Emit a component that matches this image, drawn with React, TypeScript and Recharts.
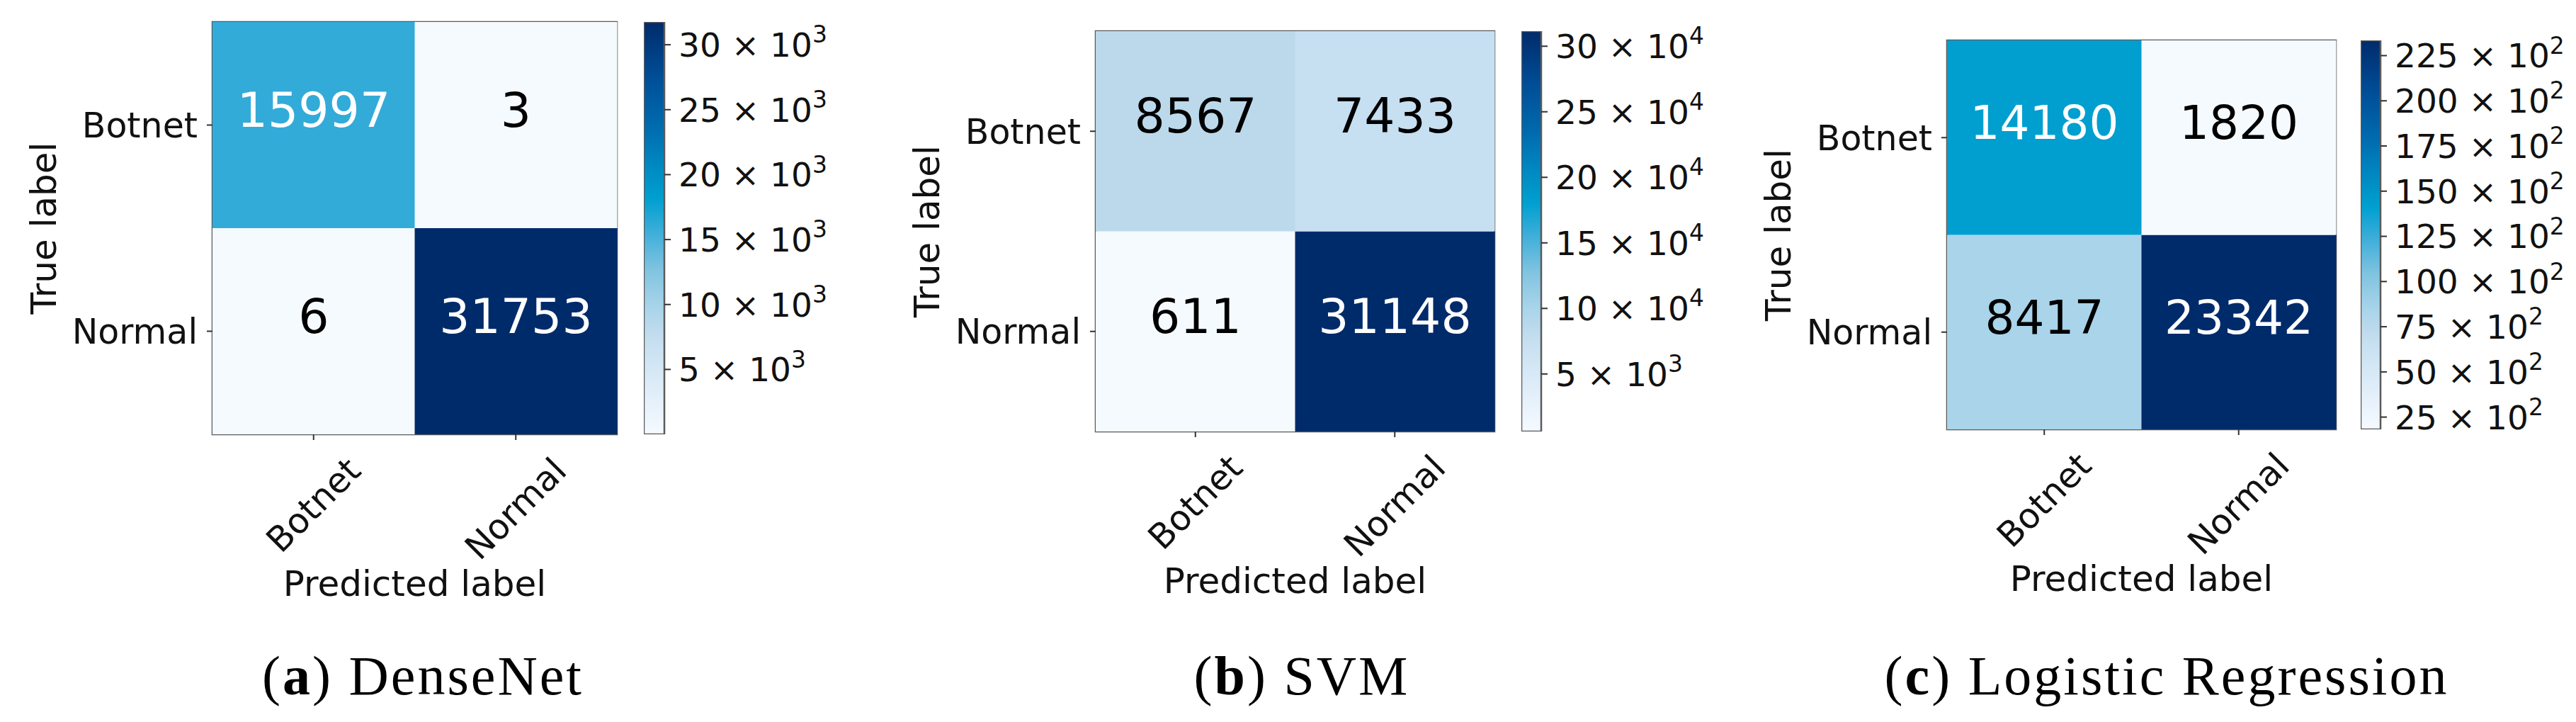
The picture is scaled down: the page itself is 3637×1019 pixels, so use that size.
import React from 'react'
import {BarChart, Bar, Cell, XAxis, YAxis, LabelList, ReferenceArea} from 'recharts'

// class names (rows = true label, columns = predicted label)
const classes = ['Botnet', 'Normal']

const denseNet = [
  [15997, 3],
  [6, 31753]
]
const svm = [
  [8567, 7433],
  [611, 31148]
]
const logReg = [
  [14180, 1820],
  [8417, 23342]
]

// colorbar ticks (values, mantissa text, exponent text as printed)
const denseTicks = [5000, 10000, 15000, 20000, 25000, 30000]
const denseMant = ['5', '10', '15', '20', '25', '30']
const denseExp = ['3', '3', '3', '3', '3', '3']

const svmTicks = [5000, 10000, 15000, 20000, 25000, 30000]
const svmMant = ['5', '10', '15', '20', '25', '30']
const svmExp = ['3', '4', '4', '4', '4', '4']

const lrTicks = [2500, 5000, 7500, 10000, 12500, 15000, 17500, 20000, 22500]
const lrMant = ['25', '50', '75', '100', '125', '150', '175', '200', '225']
const lrExp = ['2', '2', '2', '2', '2', '2', '2', '2', '2']

const captionTags = ['a', 'b', 'c']
const captionNames = ['DenseNet', 'SVM', 'Logistic Regression']

// layout of the three panels (pixels)
const layouts = [
  {hx: 300, hy: 31, hw: 571, hh: 582, cx: 909, cw: 29, capX: 597, numSize: 68},
  {hx: 1547, hy: 44, hw: 563, hh: 565, cx: 2148, cw: 28, capX: 1838, numSize: 68},
  {hx: 2749, hy: 57, hw: 549, hh: 549, cx: 3333, cw: 28, capX: 3059, numSize: 66}
]

// Blues-like map as it appears in the figure
const cmapStops: [number, string][] = [
  [0.0, '#f5faff'],
  [0.1, '#e1eef9'],
  [0.22, '#c7e0f1'],
  [0.26, '#bcd9ec'],
  [0.31, '#a8d4ea'],
  [0.4, '#80c3e0'],
  [0.5, '#36acd8'],
  [0.57, '#00a0d0'],
  [0.65, '#0089c2'],
  [0.75, '#006aae'],
  [0.87, '#004d96'],
  [1.0, '#002b6b']
]

const hexToRgb = (h: string) => [1, 3, 5].map((i) => parseInt(h.slice(i, i + 2), 16))

const cmap = (t: number) => {
  const v = Math.max(0, Math.min(1, t))
  for (let i = 1; i < cmapStops.length; i++) {
    const [t1, c1] = cmapStops[i]
    const [t0, c0] = cmapStops[i - 1]
    if (v <= t1) {
      const f = (v - t0) / (t1 - t0)
      const a = hexToRgb(c0)
      const b = hexToRgb(c1)
      return `rgb(${a.map((x, k) => Math.round(x + (b[k] - x) * f)).join(',')})`
    }
  }
  return cmapStops[cmapStops.length - 1][1]
}

const charW: Record<string, number> = {
  B: 0.686, o: 0.612, t: 0.392, n: 0.634, e: 0.615, N: 0.748, r: 0.411, m: 0.974, a: 0.613, l: 0.278
}
const textWidth = (s: string, fs: number) => s.split('').reduce((acc, ch) => acc + (charW[ch] ?? 0.6), 0) * fs

const TICK_FS = 49
const LABEL_FS = 50
const CB_FS = 47
const INK = '#111'
const FRAME = '#5a5a5a'

const RotTick = (props: any) => {
  const {x, y, payload} = props
  const label = String(payload.value)
  const half = ((textWidth(label, TICK_FS) + TICK_FS * 0.95) * Math.SQRT1_2) / 2
  const cy = y + half
  return (
    <text
      x={x}
      y={cy}
      textAnchor='middle'
      dominantBaseline='central'
      fontSize={TICK_FS}
      fill={INK}
      transform={`rotate(-45 ${x} ${cy})`}
    >
      {label}
    </text>
  )
}

const Heatmap = ({m, lay}: {m: number[][]; lay: (typeof layouts)[0]}) => {
  const flat = m.flat()
  const lo = Math.min(...flat)
  const hi = Math.max(...flat)
  const n = classes.length
  // one row per predicted class; stacked unit bars are the true-label cells
  const rows = classes.map((pred) => {
    const r: any = {pred}
    classes.forEach((_, i) => {
      r['cell' + i] = 1
    })
    return r
  })
  const H = 900
  const W = lay.hw + 310
  const yTicks = classes.map((_, i) => n - i - 0.5)
  // bottom of the stack is the last true class
  const stackOrder = classes.map((_, k) => n - 1 - k)

  return (
    <div style={{position: 'absolute', left: lay.hx - 300, top: 0}}>
      <BarChart
        width={W}
        height={H}
        data={rows}
        margin={{top: lay.hy, right: 10, left: 0, bottom: 0}}
        barCategoryGap={0}
        barGap={0}
      >
        <XAxis
          dataKey='pred'
          type='category'
          height={H - lay.hy - lay.hh}
          interval={0}
          axisLine={false}
          tickSize={8}
          tickMargin={18}
          tickLine={{stroke: '#333', strokeWidth: 2}}
          tick={<RotTick />}
          label={{
            content: (p: any) => {
              const vb = p.viewBox
              return (
                <text x={vb.x + vb.width / 2} y={vb.y + 228} textAnchor='middle' fontSize={LABEL_FS} fill={INK}>
                  Predicted label
                </text>
              )
            }
          }}
        />
        <YAxis
          type='number'
          domain={[0, n]}
          ticks={yTicks}
          width={300}
          axisLine={false}
          tickSize={8}
          tickMargin={13}
          tickLine={{stroke: '#333', strokeWidth: 2}}
          tick={{fontSize: TICK_FS, fill: INK}}
          tickFormatter={(v: number) => classes[Math.round(n - 0.5 - v)]}
          label={{
            content: (p: any) => {
              const vb = p.viewBox
              const x = vb.x + vb.width - 238
              const y = vb.y + vb.height / 2
              return (
                <text
                  x={x}
                  y={y}
                  textAnchor='middle'
                  dominantBaseline='central'
                  fontSize={LABEL_FS}
                  fill={INK}
                  transform={`rotate(-90 ${x} ${y})`}
                >
                  True label
                </text>
              )
            }
          }}
        />
        {stackOrder.map((i) => (
          <Bar key={i} dataKey={'cell' + i} stackId='cm' isAnimationActive={false}>
            {classes.map((_, j) => (
              <Cell key={j} fill={cmap((m[i][j] - lo) / (hi - lo))} />
            ))}
            <LabelList
              dataKey={'cell' + i}
              content={(p: any) => {
                const v = m[i][p.index]
                return (
                  <text
                    x={p.x + p.width / 2}
                    y={p.y + p.height / 2 + 2}
                    textAnchor='middle'
                    fontSize={lay.numSize}
                    fill={v > hi / 2 ? '#ffffff' : '#000000'}
                  >
                    {v}
                  </text>
                )
              }}
            />
          </Bar>
        ))}
        <ReferenceArea y1={0} y2={n} fill='none' stroke={FRAME} strokeWidth={2.5} ifOverflow='visible' />
      </BarChart>
    </div>
  )
}

const Colorbar = ({
  m,
  lay,
  ticks,
  mant,
  exp,
  id
}: {
  m: number[][]
  lay: (typeof layouts)[0]
  ticks: number[]
  mant: string[]
  exp: string[]
  id: string
}) => {
  const flat = m.flat()
  const lo = Math.min(...flat)
  const hi = Math.max(...flat)
  const data = [{k: 'cb', range: [lo, hi]}]
  const CbTick = (props: any) => {
    const {x, y, payload} = props
    const idx = ticks.indexOf(payload.value)
    if (idx < 0) return null
    return (
      <text x={x} y={y} dy='0.36em' textAnchor='start' fontSize={CB_FS} fill={INK}>
        {mant[idx]} × 10
        <tspan dy={-CB_FS * 0.42} fontSize={CB_FS * 0.7}>
          {exp[idx]}
        </tspan>
      </text>
    )
  }
  return (
    <div style={{position: 'absolute', left: lay.cx, top: 0}}>
      <BarChart
        width={lay.cw + 300}
        height={lay.hy + lay.hh + 10}
        data={data}
        margin={{top: lay.hy, right: 0, left: 0, bottom: 10}}
        barCategoryGap={0}
      >
        <defs>
          <linearGradient id={id} x1='0' y1='1' x2='0' y2='0'>
            {cmapStops.map(([t, c]) => (
              <stop key={t} offset={t} stopColor={c} />
            ))}
          </linearGradient>
        </defs>
        <XAxis dataKey='k' type='category' hide />
        <YAxis
          type='number'
          orientation='right'
          domain={[lo, hi]}
          allowDataOverflow
          ticks={ticks}
          width={300}
          axisLine={false}
          tickSize={9}
          tickMargin={11}
          tickLine={{stroke: '#333', strokeWidth: 2}}
          tick={<CbTick />}
        />
        <Bar dataKey='range' fill={`url(#${id})`} stroke={FRAME} strokeWidth={2.5} isAnimationActive={false} />
      </BarChart>
    </div>
  )
}

const matrices = [denseNet, svm, logReg]
const cbTicks = [denseTicks, svmTicks, lrTicks]
const cbMant = [denseMant, svmMant, lrMant]
const cbExp = [denseExp, svmExp, lrExp]

export default function App() {
  return (
    <div
      style={{
        position: 'absolute',
        left: 0,
        top: 0,
        width: 3637,
        height: 1019,
        background: '#fff',
        fontFamily: '"DejaVu Sans", sans-serif',
        overflow: 'hidden'
      }}
    >
      {matrices.map((m, k) => (
        <React.Fragment key={k}>
          <Heatmap m={m} lay={layouts[k]} />
          <Colorbar m={m} lay={layouts[k]} ticks={cbTicks[k]} mant={cbMant[k]} exp={cbExp[k]} id={'cbgrad' + k} />
        </React.Fragment>
      ))}
      <svg width={3637} height={1019} style={{position: 'absolute', left: 0, top: 0, pointerEvents: 'none'}}>
        {captionNames.map((name, k) => (
          <text
            key={k}
            x={layouts[k].capX}
            y={980}
            textAnchor='middle'
            fontFamily='"Liberation Serif", serif'
            fontSize={78}
            letterSpacing={3}
            fill='#000'
          >
            (<tspan fontWeight='bold'>{captionTags[k]}</tspan>) {name}
          </text>
        ))}
      </svg>
    </div>
  )
}
